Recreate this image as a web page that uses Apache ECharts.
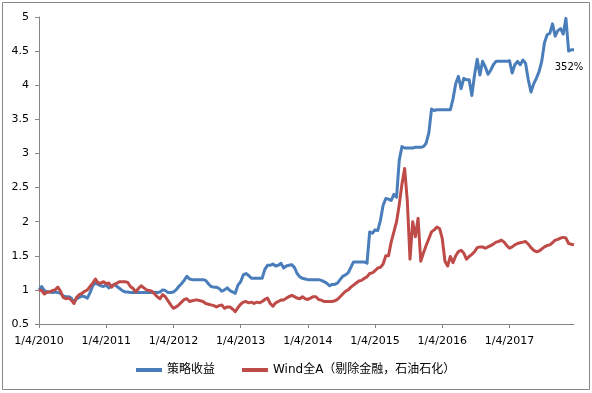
<!DOCTYPE html>
<html>
<head>
<meta charset="utf-8">
<script src="https://cdn.jsdelivr.net/npm/echarts@6/dist/echarts.min.js"></script>
<style>
html,body{margin:0;padding:0;background:#fff;}
#chart{width:592px;height:393px;}
</style>
</head>
<body>
<div id="chart"></div>
<script>
// ---- data ----
const years = ['2010','2011','2012','2013','2014','2015','2016','2017'];
const yearTickLabels = ['1/4/2010','1/4/2011','1/4/2012','1/4/2013','1/4/2014','1/4/2015','1/4/2016','1/4/2017'];
const pointsPerYear = 25;
const seriesNames = ['策略收益', 'Wind全A（剔除金融，石油石化）'];
const endLabel = '352%';

const strategy = [
  // 2010
  1.00,1.05,0.99,0.97,0.97,0.96,0.97,0.96,0.95,0.91,0.90,0.90,0.88,0.82,0.87,0.89,0.91,0.90,0.88,0.96,1.06,1.10,1.08,1.06,1.05,
  // 2011
  1.07,1.03,1.06,1.08,1.05,1.02,0.99,0.97,0.97,0.96,0.96,0.96,0.96,0.96,0.96,0.96,0.96,0.96,0.96,0.96,0.97,1.00,0.99,0.96,0.96,
  // 2012
  0.97,1.00,1.05,1.09,1.14,1.20,1.16,1.15,1.15,1.15,1.15,1.15,1.14,1.09,1.05,1.04,1.04,1.02,0.98,1.00,1.03,0.99,0.97,0.95,1.07,
  // 2013
  1.12,1.22,1.24,1.21,1.17,1.17,1.17,1.17,1.17,1.30,1.36,1.36,1.38,1.35,1.36,1.39,1.32,1.35,1.36,1.37,1.33,1.24,1.19,1.17,1.16,
  // 2014
  1.15,1.15,1.15,1.15,1.15,1.14,1.12,1.10,1.06,1.08,1.08,1.10,1.15,1.20,1.22,1.25,1.33,1.41,1.41,1.41,1.41,1.41,1.39,1.85,1.83,
  // 2015
  1.88,1.87,2.02,2.24,2.34,2.33,2.31,2.40,2.36,2.90,3.10,3.08,3.08,3.08,3.08,3.09,3.09,3.09,3.10,3.15,3.30,3.65,3.63,3.64,3.64,
  // 2016
  3.64,3.64,3.64,3.64,3.80,4.02,4.13,3.95,4.10,4.08,4.08,3.85,4.15,4.38,4.15,4.35,4.27,4.16,4.22,4.30,4.35,4.35,4.35,4.35,4.35,
  // 2017
  4.36,4.18,4.30,4.35,4.30,4.37,4.32,4.08,3.90,4.02,4.10,4.20,4.35,4.62,4.74,4.76,4.90,4.72,4.80,4.83,4.75,4.98,4.50,4.52,4.52
];

const windA = [
  // 2010
  1.00,0.99,0.94,0.97,0.97,0.99,1.00,1.04,0.98,0.89,0.87,0.88,0.85,0.80,0.89,0.93,0.95,0.98,1.00,1.05,1.10,1.16,1.10,1.10,1.12,
  // 2011
  1.09,1.10,1.04,1.08,1.10,1.12,1.12,1.12,1.11,1.05,1.02,0.97,1.02,1.06,1.03,1.00,0.99,0.98,0.94,0.90,0.87,0.93,0.90,0.84,0.78,
  // 2012
  0.73,0.75,0.78,0.82,0.86,0.87,0.83,0.84,0.85,0.85,0.84,0.83,0.80,0.79,0.78,0.77,0.75,0.77,0.78,0.73,0.75,0.75,0.72,0.68,0.74,
  // 2013
  0.79,0.82,0.83,0.81,0.82,0.80,0.82,0.81,0.83,0.86,0.88,0.80,0.76,0.81,0.83,0.85,0.85,0.88,0.90,0.92,0.90,0.88,0.87,0.90,0.87,
  // 2014
  0.86,0.88,0.90,0.90,0.86,0.85,0.83,0.83,0.83,0.83,0.84,0.86,0.90,0.94,0.98,1.00,1.04,1.07,1.10,1.13,1.14,1.17,1.19,1.24,1.25,
  // 2015
  1.28,1.32,1.33,1.38,1.50,1.50,1.70,1.85,2.00,2.25,2.55,2.78,2.30,1.45,2.00,1.78,2.05,1.42,1.54,1.65,1.75,1.85,1.88,1.92,1.90,
  // 2016
  1.75,1.42,1.35,1.49,1.40,1.50,1.56,1.58,1.54,1.45,1.49,1.52,1.56,1.62,1.63,1.63,1.61,1.63,1.65,1.67,1.70,1.71,1.73,1.70,1.65,
  // 2017
  1.61,1.63,1.66,1.68,1.69,1.70,1.71,1.67,1.62,1.58,1.56,1.57,1.60,1.63,1.65,1.66,1.69,1.73,1.74,1.76,1.77,1.76,1.68,1.67,1.66
];

// ---- chart ----
const categories = [];
years.forEach(function (y) {
  for (let k = 0; k < pointsPerYear; k++) categories.push(y + '-' + k);
});

const FONT = '"DejaVu Sans", "Noto Sans CJK SC", sans-serif';
const AXIS_COLOR = '#868686';

const chart = echarts.init(document.getElementById('chart'), null, {renderer: 'canvas'});
chart.setOption({
  animation: false,
  backgroundColor: '#fff',
  graphic: [{
    type: 'rect',
    shape: {x: 2.5, y: 2.5, width: 587, height: 387},
    style: {fill: 'none', stroke: AXIS_COLOR, lineWidth: 1},
    silent: true
  }],
  grid: {left: 39, right: 18, top: 17, bottom: 69, containLabel: false},
  legend: {
    data: seriesNames,
    left: 131,
    top: 359,
    itemWidth: 26,
    itemHeight: 4,
    itemGap: 27,
    icon: 'rect',
    textStyle: {fontSize: 12, color: '#000', fontFamily: FONT}
  },
  xAxis: {
    type: 'category',
    data: categories,
    boundaryGap: false,
    axisLine: {lineStyle: {color: AXIS_COLOR, width: 1}},
    axisTick: {
      show: true, length: 4, inside: false,
      interval: function (idx) { return idx % pointsPerYear === 0; },
      lineStyle: {color: AXIS_COLOR}
    },
    axisLabel: {
      interval: function (idx) { return idx % pointsPerYear === 0; },
      formatter: function (val, idx) { return yearTickLabels[Math.floor(idx / pointsPerYear)]; },
      margin: 12,
      fontSize: 11,
      color: '#000',
      fontFamily: FONT
    },
    splitLine: {show: false}
  },
  yAxis: {
    type: 'value',
    min: 0.5,
    max: 5,
    interval: 0.5,
    axisLine: {show: true, lineStyle: {color: AXIS_COLOR, width: 1}},
    axisTick: {show: true, length: 4, lineStyle: {color: AXIS_COLOR}},
    axisLabel: {margin: 10, fontSize: 11, color: '#000', fontFamily: FONT},
    splitLine: {show: false}
  },
  series: [
    {
      name: seriesNames[0],
      type: 'line',
      data: strategy,
      symbol: 'none',
      showSymbol: false,
      color: '#4A7EBB',
      lineStyle: {width: 3, color: '#4A7EBB', join: 'round'},
      endLabel: {
        show: true,
        formatter: endLabel,
        distance: 0,
        align: 'center',
        verticalAlign: 'middle',
        offset: [-5, 18],
        color: '#000',
        fontSize: 10,
        fontFamily: FONT
      }
    },
    {
      name: seriesNames[1],
      type: 'line',
      data: windA,
      symbol: 'none',
      showSymbol: false,
      color: '#BE4B48',
      lineStyle: {width: 3, color: '#BE4B48', join: 'round'}
    }
  ]
});
</script>
</body>
</html>
